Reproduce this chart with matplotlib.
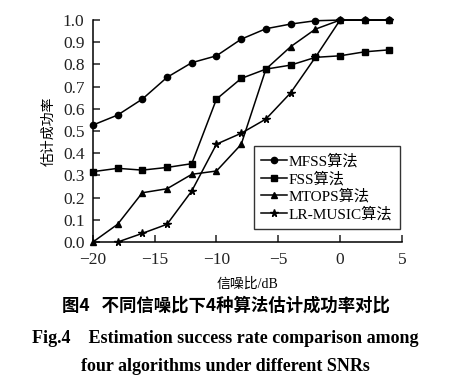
import matplotlib.pyplot as plt

plt.rcParams['font.family'] = ['Liberation Serif', 'Noto Sans CJK SC']

# SNR (dB)
snr = [-20, -18, -16, -14, -12, -10, -8, -6, -4, -2, 0, 2, 4]
mfss = [0.527, 0.572, 0.644, 0.742, 0.808, 0.839, 0.914, 0.961, 0.982, 0.997, 1.0, 1.0, 1.0]
fss = [0.317, 0.332, 0.324, 0.336, 0.353, 0.644, 0.737, 0.779, 0.797, 0.832, 0.839, 0.857, 0.866]
mtops = [0.0, 0.08, 0.222, 0.24, 0.305, 0.32, 0.44, 0.779, 0.88, 0.959, 1.0, 1.0, 1.0]
snr_lr = [-18, -16, -14, -12, -10, -8, -6, -4, -2, 0, 2, 4]
lr_music = [0.0, 0.039, 0.08, 0.23, 0.441, 0.49, 0.554, 0.672, 0.832, 1.0, 1.0, 1.0]

fig = plt.figure(figsize=(4.51, 3.86), dpi=100)
ax = fig.add_axes([0.206, 0.373, 0.685, 0.575])

kw = dict(color='black', lw=1.1, ms=4.5, clip_on=False)
ax.plot(snr, mfss, marker='o', label='MFSS算法', **kw)
ax.plot(snr, fss, marker='s', label='FSS算法', **kw)
ax.plot(snr, mtops, marker='^', label='MTOPS算法', **kw)
ax.plot(snr_lr, lr_music, marker='*', label='LR-MUSIC算法', ms=5.5,
        color='black', lw=1.1, clip_on=False)

ax.set_xlim(-20, 5)
ax.set_ylim(0, 1)
ax.set_xticks([-20, -15, -10, -5, 0, 5])
ax.set_xticklabels(['\u221220', '\u221215', '\u221210', '\u22125', '0', '5'])
ax.set_yticks([i / 10 for i in range(11)])
ax.set_yticklabels(['%.1f' % (i / 10) for i in range(11)])
ax.tick_params(direction='in', length=5, width=1.1, labelsize=12.5, colors='#222222')
ax.tick_params(axis='x', pad=7)
ax.tick_params(axis='y', pad=6)
ax.spines['top'].set_visible(False)
ax.spines['right'].set_visible(False)
ax.spines['left'].set_linewidth(1.1)
ax.spines['bottom'].set_linewidth(1.1)

ax.set_xlabel('信噪比/dB', fontsize=10, labelpad=7)
ax.set_ylabel('估计成功率', fontsize=10, labelpad=5)

leg = ax.legend(loc='lower right', bbox_to_anchor=(0.994, 0.058), fontsize=11,
                frameon=True, fancybox=False, edgecolor='black',
                handlelength=1.7, handletextpad=0.1, labelspacing=0.2,
                borderpad=0.5, borderaxespad=0)
leg.get_frame().set_linewidth(1.0)

fig.text(0.5, 0.195, '图4   不同信噪比下4种算法估计成功率对比', ha='center',
         fontsize=12.5, fontweight='bold', family=['Noto Sans CJK SC'])
fig.text(0.5, 0.112, 'Fig.4    Estimation success rate comparison among',
         ha='center', fontsize=13, fontweight='bold')
fig.text(0.5, 0.04, 'four algorithms under different SNRs',
         ha='center', fontsize=13, fontweight='bold')

fig.savefig('out.png', dpi=100)
